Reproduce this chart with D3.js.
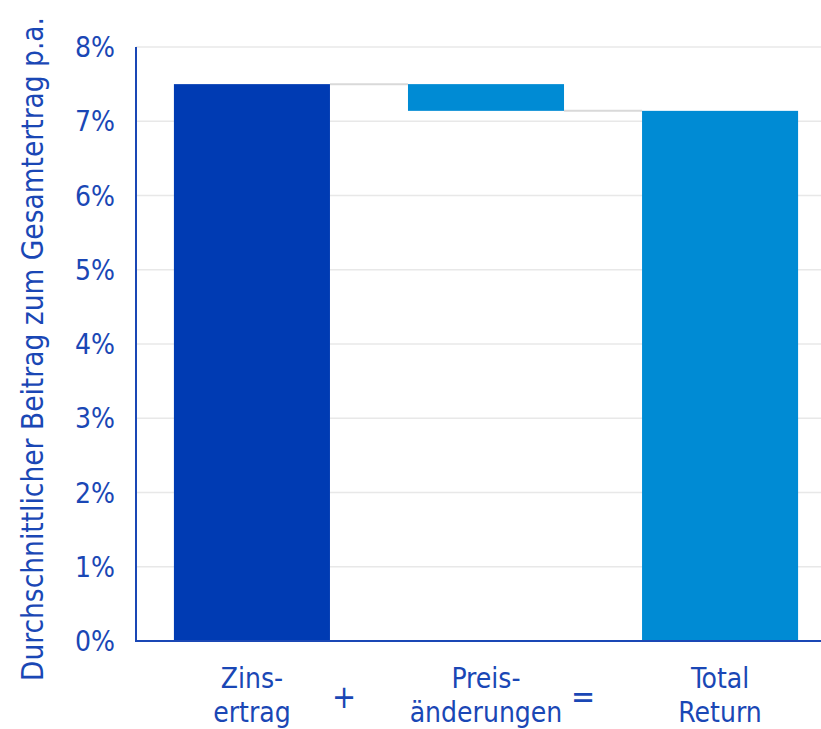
<!DOCTYPE html>
<html><head><meta charset="utf-8">
<script src="https://cdn.jsdelivr.net/npm/d3@7"></script>
<style>body{margin:0;background:#fff}svg{display:block}text{font-family:"DejaVu Sans Condensed","Open Sans",sans-serif;fill:#1a47b5}</style>
</head><body><svg id="c" width="821" height="729"></svg>
<script>
const categories = [["Zins-","ertrag"],["Preis-","änderungen"],["Total","Return"]];
const barStart = [0, 7.50, 0];
const barEnd = [7.50, 7.14, 7.14];
const barColors = ["#003bb3","#008bd4","#008bd4"];
const operators = ["+","="];
const yTicks = [0,1,2,3,4,5,6,7,8];
const yTitle = "Durchschnittlicher Beitrag zum Gesamtertrag p.a.";

const svg = d3.select("#c");
const W = 821;
const y = d3.scaleLinear().domain([0,8]).range([641,47]);
const x = d3.scaleBand().domain(d3.range(categories.length)).range([136,836]).paddingInner(1/3).paddingOuter(0.162);

// gridlines
svg.append("g").selectAll("line").data(yTicks.filter(d=>d>0)).join("line")
  .attr("x1",136).attr("x2",W).attr("y1",d=>y(d)).attr("y2",d=>y(d))
  .attr("stroke","#e8e8e8").attr("stroke-width",1.5);

// tick labels
svg.append("g").selectAll("text").data(yTicks).join("text")
  .attr("x",115).attr("y",d=>y(d)).attr("dy","0.36em").attr("text-anchor","end")
  .attr("font-size",28).text(d=>d+"%");

// connectors
const conn = [];
for (let i=0;i<categories.length-1;i++) conn.push({i, v: barEnd[i]});
svg.append("g").selectAll("line").data(conn).join("line")
  .attr("x1",d=>x(d.i)+x.bandwidth()).attr("x2",d=>x(d.i+1))
  .attr("y1",d=>y(d.v)).attr("y2",d=>y(d.v))
  .attr("stroke","#d9d9d9").attr("stroke-width",2);

// bars
svg.append("g").selectAll("rect").data(categories).join("rect")
  .attr("x",(d,i)=>x(i)).attr("width",x.bandwidth())
  .attr("y",(d,i)=>y(Math.max(barStart[i],barEnd[i])))
  .attr("height",(d,i)=>Math.abs(y(barStart[i])-y(barEnd[i])))
  .attr("fill",(d,i)=>barColors[i]);

// axes lines
svg.append("line").attr("x1",136).attr("x2",136).attr("y1",y(8)).attr("y2",y(0)+1)
  .attr("stroke","#1a47b5").attr("stroke-width",2);
svg.append("line").attr("x1",135).attr("x2",W).attr("y1",y(0)).attr("y2",y(0))
  .attr("stroke","#1a47b5").attr("stroke-width",2);

// category labels
const cl = svg.append("g").selectAll("text").data(categories).join("text")
  .attr("text-anchor","middle").attr("font-size",28);
cl.each(function(d,i){
  const t = d3.select(this);
  d.forEach((line,j)=>t.append("tspan").attr("x",x(i)+x.bandwidth()/2).attr("y",688+j*34).text(line));
});

// operators
svg.append("g").selectAll("text").data(operators).join("text")
  .attr("x",(d,i)=>x(i)+x.bandwidth()+[14,19][i]).attr("y",708)
  .attr("text-anchor","middle").attr("font-size",32).text(d=>d);

// y title
svg.append("text").attr("transform","translate(43,349) rotate(-90)")
  .attr("text-anchor","middle").attr("font-size",29.5).text(yTitle);
</script></body></html>
